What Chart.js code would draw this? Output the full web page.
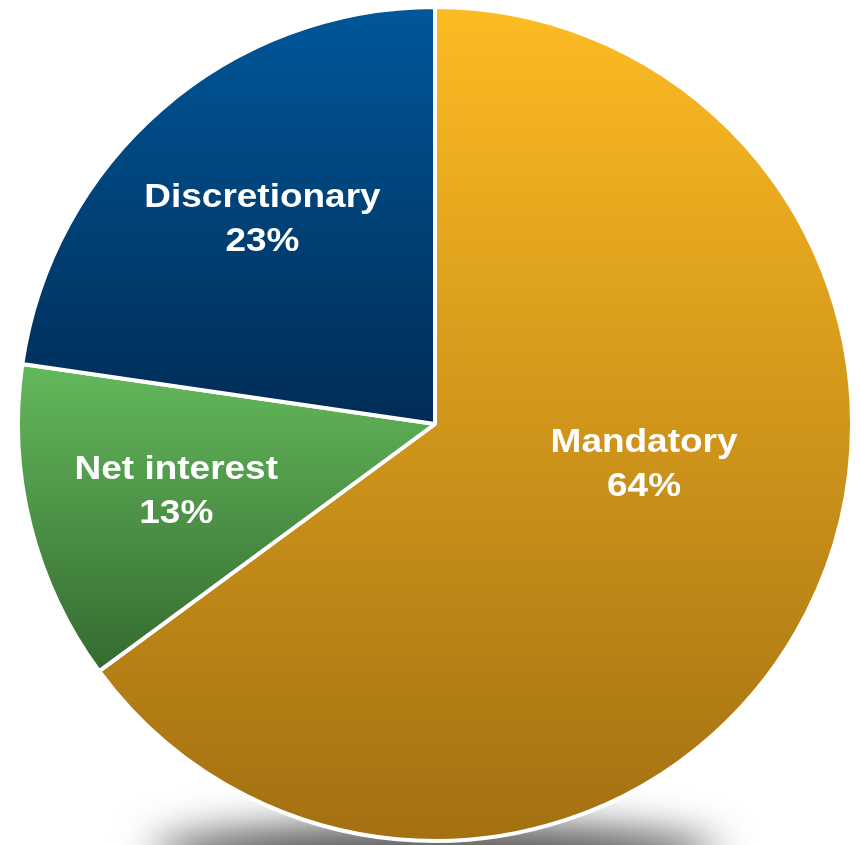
<!DOCTYPE html>
<html>
<head>
<meta charset="utf-8">
<script src="https://cdn.jsdelivr.net/npm/chart.js@4.4.1/dist/chart.umd.min.js"></script>
<style>
  html, body { margin: 0; padding: 0; background: #fff; }
  #wrap { width: 860px; height: 845px; }
</style>
</head>
<body>
<div id="wrap"><canvas id="pie"></canvas></div>
<script>
const categories = ['Mandatory', 'Net interest', 'Discretionary'];
// slice sizes
const shares = [64.9, 12.4, 22.7];
const valueLabels = ['64%', '13%', '23%'];

// top / bottom colour of each slice's vertical gradient
const gradientStops = [
  ['#FDBB23', '#A37012'],
  ['#64B95C', '#346A2F'],
  ['#00579A', '#002C55']
];

// where each label sits: angle in degrees (canvas, clockwise from 3 o'clock), fraction of radius
const labelSpots = [
  { angle: 10.6, dist: 0.51 },
  { angle: 165.8, dist: 0.64 },
  { angle: 230.1, dist: 0.645 }
];

function sliceYRange(index, cx, cy, r) {
  const total = shares.reduce((a, b) => a + b, 0);
  let start = -Math.PI / 2;
  for (let i = 0; i < index; i++) start += shares[i] / total * Math.PI * 2;
  const end = start + shares[index] / total * Math.PI * 2;
  const ys = [cy, cy + r * Math.sin(start), cy + r * Math.sin(end)];
  for (let k = -2; k <= 2; k++) {
    const top = -Math.PI / 2 + k * Math.PI * 2;
    const bottom = Math.PI / 2 + k * Math.PI * 2;
    if (top > start && top < end) ys.push(cy - r);
    if (bottom > start && bottom < end) ys.push(cy + r);
  }
  return [Math.min(...ys), Math.max(...ys)];
}

function sliceFill(context) {
  const chart = context.chart;
  const area = chart.chartArea;
  const stops = gradientStops[context.dataIndex];
  if (!area) return stops[0];
  const cx = (area.left + area.right) / 2;
  const cy = (area.top + area.bottom) / 2;
  const r = Math.min(area.width, area.height) / 2;
  const [y0, y1] = sliceYRange(context.dataIndex, cx, cy, r);
  const g = chart.ctx.createLinearGradient(0, y0, 0, y1);
  g.addColorStop(0, stops[0]);
  g.addColorStop(1, stops[1]);
  return g;
}

// soft shadow under the pie; the shape is drawn off-canvas so only its shadow shows
const shadowPlugin = {
  id: 'pieShadow',
  beforeDatasetsDraw(chart) {
    const arc = chart.getDatasetMeta(0).data[0];
    if (!arc) return;
    const ctx = chart.ctx;
    const r = arc.outerRadius;
    const shift = 5000;
    ctx.save();
    ctx.shadowColor = 'rgba(0,0,0,0.7)';
    ctx.shadowBlur = 40;
    ctx.shadowOffsetY = shift;
    ctx.fillStyle = '#000';
    ctx.beginPath();
    ctx.ellipse(arc.x, arc.y + r + 12 - shift, r * 0.68, 28, 0, 0, Math.PI * 2);
    ctx.fill();
    ctx.restore();
  }
};

const labelPlugin = {
  id: 'sliceLabels',
  afterDatasetsDraw(chart) {
    const ctx = chart.ctx;
    const arcs = chart.getDatasetMeta(0).data;
    ctx.save();
    ctx.fillStyle = '#ffffff';
    ctx.textAlign = 'center';
    ctx.textBaseline = 'middle';
    ctx.font = 'bold 33px "Liberation Sans", Arial, sans-serif';
    arcs.forEach((arc, i) => {
      const spot = labelSpots[i];
      const a = spot.angle * Math.PI / 180;
      const x = arc.x + Math.cos(a) * arc.outerRadius * spot.dist;
      const y = arc.y + Math.sin(a) * arc.outerRadius * spot.dist;
      ctx.save();
      ctx.translate(x, y);
      ctx.scale(1.12, 1);
      ctx.fillText(categories[i], 0, -20);
      ctx.fillText(valueLabels[i], 0, 24);
      ctx.restore();
    });
    ctx.restore();
  }
};

new Chart(document.getElementById('pie'), {
  type: 'pie',
  data: {
    labels: categories,
    datasets: [{
      data: shares,
      backgroundColor: sliceFill,
      borderColor: '#ffffff',
      borderWidth: 4
    }]
  },
  options: {
    responsive: true,
    maintainAspectRatio: false,
    animation: false,
    layout: { padding: { left: 16, right: 6, top: 5, bottom: 2 } },
    plugins: {
      legend: { display: false },
      tooltip: { enabled: false }
    }
  },
  plugins: [shadowPlugin, labelPlugin]
});
</script>
</body>
</html>
